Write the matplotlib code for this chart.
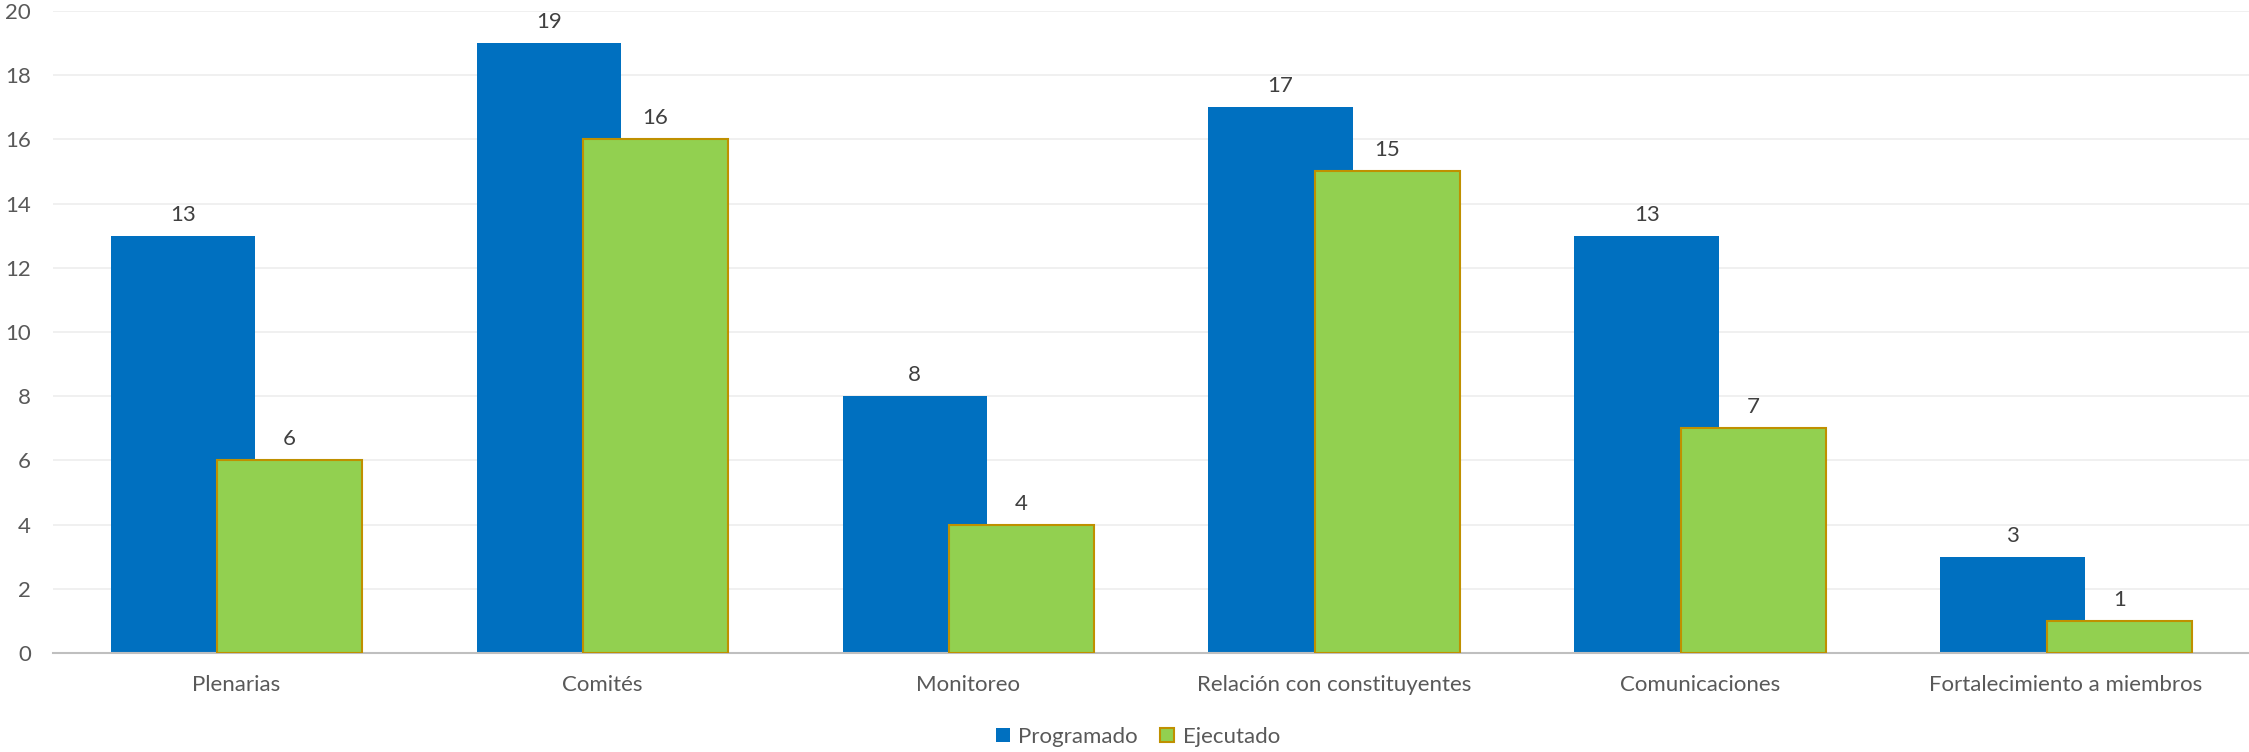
import matplotlib.pyplot as plt
import numpy as np

categorias = ["Plenarias", "Comités", "Monitoreo", "Relación con constituyentes",
              "Comunicaciones", "Fortalecimiento a miembros"]
programado = [13, 19, 8, 17, 13, 3]
ejecutado = [6, 16, 4, 15, 7, 1]

plt.rcParams['font.family'] = ['Lato', 'DejaVu Sans']
texto = "#595959"
tam = 16

fig = plt.figure(figsize=(22.49, 7.52), dpi=100)
ax = fig.add_axes([0.0236, 0.1316, 0.9764, 0.8538])

x = np.arange(len(categorias))
ancho = 0.394
b1 = ax.bar(x - 0.146, programado, width=ancho, color="#0070C0", label="Programado", zorder=2)
b2 = ax.bar(x + 0.146, ejecutado, width=ancho, color="#92D050", edgecolor="#BF9000",
            linewidth=1.5, label="Ejecutado", zorder=3)

for barras in (b1, b2):
    for b in barras:
        ax.annotate(f"{int(b.get_height())}", (b.get_x() + b.get_width() / 2, b.get_height()),
                    xytext=(0, 8), textcoords="offset points", ha="center", va="bottom",
                    fontsize=tam, color="#404040")

ax.set_xlim(-0.5, len(categorias) - 0.5)
ax.set_ylim(0, 20)
ax.set_yticks(range(0, 21, 2))
ax.set_xticks(x)
ax.set_xticklabels(categorias)
ax.tick_params(axis="both", length=0, labelsize=tam, colors=texto)
ax.tick_params(axis="y", pad=16)
ax.tick_params(axis="x", pad=16)
ax.grid(axis="y", color="#EEEEEE", linewidth=1.2, zorder=0)
ax.set_axisbelow(True)
for s in ("top", "right", "left"):
    ax.spines[s].set_visible(False)
ax.spines["bottom"].set_color("#BFBFBF")
ax.spines["bottom"].set_linewidth(1.5)

fig.legend(loc="lower center", bbox_to_anchor=(0.506, -0.02), ncol=2, frameon=False,
           fontsize=tam, labelcolor=texto, handlelength=0.6, handleheight=0.6,
           handletextpad=0.4, columnspacing=1.0)

plt.savefig("out.png", dpi=100)
